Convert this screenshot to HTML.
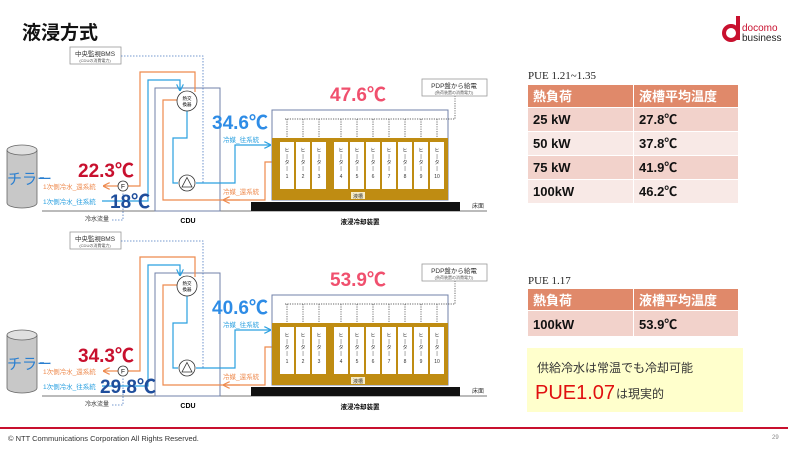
<!DOCTYPE html>
<html><head><meta charset="utf-8"><style>
body{margin:0;width:800px;height:450px;background:#fff;overflow:hidden;font-family:"Liberation Sans","Noto Sans CJK JP",sans-serif}
</style></head><body>
<svg width="800" height="450" viewBox="0 0 800 450" xmlns="http://www.w3.org/2000/svg" font-family="Liberation Sans, Noto Sans CJK JP, sans-serif">
<defs>
<marker id="ab" markerWidth="6" markerHeight="6" refX="5" refY="3" orient="auto"><path d="M0,0 L6,3 L0,6" fill="none" stroke="#2aa0e0" stroke-width="1"/></marker>
<marker id="ao" markerWidth="6" markerHeight="6" refX="5" refY="3" orient="auto"><path d="M0,0 L6,3 L0,6" fill="none" stroke="#ee8a4e" stroke-width="1"/></marker>
<g id="ht" font-size="5" fill="#333" text-anchor="middle">
 <text x="0" y="152">ヒ</text><text x="0" y="158">|</text><text x="0" y="164">タ</text><text x="0" y="170">|</text>
</g>
<g id="dg">
 <path d="M7,150 V203 A15,5 0 0 0 37,203 V150" fill="#c8c8c8" stroke="#666" stroke-width="0.8"/>
 <ellipse cx="22" cy="150" rx="15" ry="5" fill="#e0e0e0" stroke="#666" stroke-width="0.8"/>
 <line x1="40" y1="178" x2="44" y2="178" stroke="#2a7fd0" stroke-width="1.5"/>
 <line x1="42" y1="211" x2="487" y2="211" stroke="#777" stroke-width="1"/>
 <rect x="155" y="88" width="65" height="123" fill="none" stroke="#7080a8" stroke-width="1"/>
 <rect x="70" y="47" width="51" height="17" fill="#fff" stroke="#999" stroke-width="0.8"/>
 <text x="95" y="56" font-size="6.5" text-anchor="middle" fill="#333">中央監視BMS</text>
 <text x="95" y="62" font-size="4" text-anchor="middle" fill="#555">(CDUの消費電力)</text>
 <polyline points="121,56 203,56 203,183 197,183" fill="none" stroke="#4a78c0" stroke-width="0.8" stroke-dasharray="1.5,1.5"/>
 <polyline points="112,220 123,220 123,192" fill="none" stroke="#4a78c0" stroke-width="0.8" stroke-dasharray="1.5,1.5"/>
 <polyline points="195,92 195,72 140,72 140,186 128,186" fill="none" stroke="#ee8a4e" stroke-width="1.2"/>
 <line x1="118" y1="186" x2="104" y2="186" stroke="#ee8a4e" stroke-width="1.2" marker-end="url(#ao)"/>
 <polyline points="102,201 148,201 148,80 180,80 180,90" fill="none" stroke="#2aa0e0" stroke-width="1.2" marker-end="url(#ab)"/>
 <polyline points="272,162 265,162 265,200 163,200 163,100 177,100" fill="none" stroke="#ee8a4e" stroke-width="1.2"/>
 <line x1="240" y1="200" x2="224" y2="200" stroke="#ee8a4e" stroke-width="1.2" marker-end="url(#ao)"/>
 <polyline points="187,111 187,138 173,138 173,183 178,183" fill="none" stroke="#2aa0e0" stroke-width="1.2"/>
 <polyline points="196,183 235,183 235,145 270,145" fill="none" stroke="#2aa0e0" stroke-width="1.2" marker-end="url(#ab)"/>
 <circle cx="187" cy="101" r="10" fill="#fff" stroke="#333" stroke-width="0.8"/>
 <text x="187" y="100" font-size="4.5" text-anchor="middle">熱交</text>
 <text x="187" y="106" font-size="4.5" text-anchor="middle">換器</text>
 <circle cx="187" cy="183" r="8" fill="#fff" stroke="#333" stroke-width="0.8"/>
 <path d="M187,177.5 L192,187 L182,187 Z" fill="none" stroke="#333" stroke-width="0.8"/>
 <circle cx="123" cy="186" r="5" fill="#fff" stroke="#333" stroke-width="0.8"/>
 <text x="123" y="188.5" font-size="6.5" text-anchor="middle">F</text>
 <rect x="272" y="110" width="176" height="90" fill="#fff" stroke="#7080a8" stroke-width="1"/>
 <rect x="272" y="138" width="176" height="62" fill="#bf8c12"/>
 <g fill="#fff">
  <rect x="280" y="142" width="14" height="47"/><rect x="296" y="142" width="14" height="47"/><rect x="312" y="142" width="14" height="47"/>
  <rect x="334" y="142" width="14" height="47"/><rect x="350" y="142" width="14" height="47"/><rect x="366" y="142" width="14" height="47"/>
  <rect x="382" y="142" width="14" height="47"/><rect x="398" y="142" width="14" height="47"/><rect x="414" y="142" width="14" height="47"/>
  <rect x="430" y="142" width="14" height="47"/>
 </g>
 <use href="#ht" x="287"/><use href="#ht" x="303"/><use href="#ht" x="319"/><use href="#ht" x="341"/><use href="#ht" x="357"/>
 <use href="#ht" x="373"/><use href="#ht" x="389"/><use href="#ht" x="405"/><use href="#ht" x="421"/><use href="#ht" x="437"/>
 <g font-size="5" fill="#333" text-anchor="middle">
  <text x="287" y="178">1</text><text x="303" y="178">2</text><text x="319" y="178">3</text><text x="341" y="178">4</text><text x="357" y="178">5</text><text x="373" y="178">6</text><text x="389" y="178">7</text><text x="405" y="178">8</text><text x="421" y="178">9</text><text x="437" y="178">10</text>
 </g>
 <rect x="351" y="192" width="14" height="7" fill="#f6ecc8"/>
 <text x="358" y="198" font-size="5" text-anchor="middle" fill="#333">液槽</text>
 <g stroke="#333" stroke-width="0.7" stroke-dasharray="1.2,1.2" fill="none">
  <polyline points="285,119 455,119 455,96"/>
  <line x1="287" y1="119" x2="287" y2="138"/><line x1="303" y1="119" x2="303" y2="138"/><line x1="319" y1="119" x2="319" y2="138"/>
  <line x1="341" y1="119" x2="341" y2="138"/><line x1="357" y1="119" x2="357" y2="138"/><line x1="373" y1="119" x2="373" y2="138"/>
  <line x1="389" y1="119" x2="389" y2="138"/><line x1="405" y1="119" x2="405" y2="138"/><line x1="421" y1="119" x2="421" y2="138"/><line x1="437" y1="119" x2="437" y2="138"/>
 </g>
 <rect x="422" y="79" width="65" height="17" fill="#fff" stroke="#999" stroke-width="0.8"/>
 <text x="454" y="88" font-size="6.5" text-anchor="middle" fill="#333">PDP盤から給電</text>
 <text x="454" y="94" font-size="4" text-anchor="middle" fill="#555">(負荷装置の消費電力)</text>
 <rect x="251" y="202" width="209" height="9" fill="#111"/>
 <text x="472" y="208" font-size="6" fill="#333">床面</text>
 <text x="7" y="184" font-size="15" fill="#2a7fd0">チラー</text>
 <text x="43" y="189" font-size="6.5" fill="#ee8a4e">1次側冷水_還系統</text>
 <text x="43" y="204" font-size="6.5" fill="#2aa0e0">1次側冷水_往系統</text>
 <text x="85" y="221" font-size="6" fill="#333">冷水流量</text>
 <text x="223" y="142" font-size="6.5" fill="#2aa0e0">冷媒_往系統</text>
 <text x="223" y="194" font-size="6.5" fill="#ee8a4e">冷媒_還系統</text>
 <text x="188" y="223" font-size="7" font-weight="bold" text-anchor="middle">CDU</text>
 <text x="360" y="224" font-size="6.5" font-weight="bold" text-anchor="middle">液浸冷却装置</text>
</g>
</defs>
<text x="22" y="39" font-size="19" font-weight="bold" fill="#111">液浸方式</text>
<circle cx="731" cy="33" r="7" fill="none" stroke="#c8102e" stroke-width="4"/>
<rect x="736" y="16" width="4" height="24" fill="#c8102e"/>
<text x="742" y="31" font-size="10" fill="#c8102e">docomo</text>
<text x="742" y="41" font-size="10" fill="#222">business</text>

<use href="#dg"/>
<use href="#dg" transform="translate(0,185)"/>
<g font-weight="bold" font-size="19">
 <text x="330" y="101" fill="#f0506e">47.6℃</text>
 <text x="212" y="129" fill="#2e8ce6">34.6℃</text>
 <text x="78" y="177" fill="#c8102e">22.3℃</text>
 <text x="110" y="208" fill="#1f4e9c">18℃</text>
 <text x="330" y="286" fill="#f0506e">53.9℃</text>
 <text x="212" y="314" fill="#2e8ce6">40.6℃</text>
 <text x="78" y="362" fill="#c8102e">34.3℃</text>
 <text x="100" y="393" fill="#1f4e9c">29.8℃</text>
</g>
<text x="528" y="79" font-size="11" font-family="Liberation Serif, serif" fill="#222">PUE   1.21~1.35</text>
<rect x="528" y="85" width="105" height="22" fill="#e0896a"/><rect x="634" y="85" width="104" height="22" fill="#e0896a"/>
<rect x="528" y="108" width="105" height="23" fill="#f2d2cb"/><rect x="634" y="108" width="104" height="23" fill="#f2d2cb"/>
<rect x="528" y="132" width="105" height="23" fill="#f8e9e6"/><rect x="634" y="132" width="104" height="23" fill="#f8e9e6"/>
<rect x="528" y="156" width="105" height="23" fill="#f2d2cb"/><rect x="634" y="156" width="104" height="23" fill="#f2d2cb"/>
<rect x="528" y="180" width="105" height="23" fill="#f8e9e6"/><rect x="634" y="180" width="104" height="23" fill="#f8e9e6"/>
<g font-size="13" font-weight="bold" fill="#111">
 <text x="533" y="101" fill="#fff">熱負荷</text><text x="639" y="101" fill="#fff">液槽平均温度</text>
 <text x="533" y="124">25  kW</text><text x="639" y="124">27.8℃</text>
 <text x="533" y="148">50  kW</text><text x="639" y="148">37.8℃</text>
 <text x="533" y="172">75  kW</text><text x="639" y="172">41.9℃</text>
 <text x="533" y="196">100kW</text><text x="639" y="196">46.2℃</text>
</g>
<text x="528" y="284" font-size="11" font-family="Liberation Serif, serif" fill="#222">PUE   1.17</text>
<rect x="528" y="289" width="105" height="21" fill="#e0896a"/><rect x="634" y="289" width="104" height="21" fill="#e0896a"/>
<rect x="528" y="311" width="105" height="25" fill="#f2d2cb"/><rect x="634" y="311" width="104" height="25" fill="#f2d2cb"/>
<g font-size="13" font-weight="bold" fill="#111">
 <text x="533" y="305" fill="#fff">熱負荷</text><text x="639" y="305" fill="#fff">液槽平均温度</text>
 <text x="533" y="329">100kW</text><text x="639" y="329">53.9℃</text>
</g>
<rect x="527" y="348" width="216" height="64" fill="#ffffcc"/>
<text x="537" y="372" font-size="12" fill="#333">供給冷水は常温でも冷却可能</text>
<text x="535" y="399" font-size="20" fill="#e01010">PUE1.07</text>
<text x="616" y="398" font-size="12" fill="#333">は現実的</text>
<rect x="0" y="427" width="788" height="2" fill="#c8102e"/>
<text x="8" y="441" font-size="7.5" fill="#333">© NTT Communications Corporation All Rights Reserved.</text>
<text x="772" y="439" font-size="6" fill="#888">29</text>
</svg>
</body></html>
